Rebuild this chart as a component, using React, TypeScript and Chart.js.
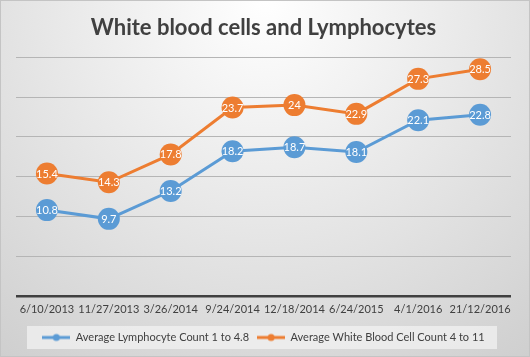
import React, { useEffect, useRef } from "react";
import { Chart, registerables } from "chart.js";

Chart.register(...registerables);

const categories = ["6/10/2013", "11/27/2013", "3/26/2014", "9/24/2014", "12/18/2014", "6/24/2015", "4/1/2016", "21/12/2016"];
const lymphocytes = [10.8, 9.7, 13.2, 18.2, 18.7, 18.1, 22.1, 22.8];
const whiteBloodCells = [15.4, 14.3, 17.8, 23.7, 24, 22.9, 27.3, 28.5];
const seriesNames = ["Average Lymphocyte Count 1 to 4.8", "Average White Blood Cell Count 4 to 11"];
const seriesColors = ["#5B9BD5", "#ED7D31"];
const titleText = "White blood cells and Lymphocytes";

const FONT = "Lato, 'Open Sans', sans-serif";

function makeLegendIcon(color: string) {
  const c = document.createElement("canvas");
  c.width = 28;
  c.height = 10;
  const ctx = c.getContext("2d")!;
  ctx.strokeStyle = color;
  ctx.lineWidth = 3;
  ctx.beginPath();
  ctx.moveTo(0, 5);
  ctx.lineTo(28, 5);
  ctx.stroke();
  ctx.fillStyle = color;
  ctx.beginPath();
  ctx.arc(14, 5, 3.5, 0, Math.PI * 2);
  ctx.fill();
  return c;
}

const dataLabelPlugin = {
  id: "dataLabels",
  afterDatasetsDraw(chart: any) {
    const ctx = chart.ctx;
    ctx.save();
    ctx.fillStyle = "#ffffff";
    ctx.font = `11px ${FONT}`;
    ctx.textAlign = "center";
    ctx.textBaseline = "middle";
    chart.data.datasets.forEach((ds: any, i: number) => {
      const meta = chart.getDatasetMeta(i);
      meta.data.forEach((pt: any, j: number) => {
        ctx.fillText(String(ds.data[j]), pt.x, pt.y + 0.5);
      });
    });
    ctx.restore();
  },
};

const legendBgPlugin = {
  id: "legendBg",
  beforeDraw(chart: any) {
    const lg = chart.legend;
    if (!lg || !lg.legendHitBoxes || !lg.legendHitBoxes.length) return;
    const boxes = lg.legendHitBoxes;
    const top = Math.min(...boxes.map((b: any) => b.top));
    const bottom = Math.max(...boxes.map((b: any) => b.top + b.height));
    const ctx = chart.ctx;
    ctx.save();
    ctx.fillStyle = "rgba(242,242,242,0.75)";
    ctx.fillRect(26, top - 6, 470, bottom - top + 12);
    ctx.restore();
  },
};

export default function App() {
  const ref = useRef<HTMLCanvasElement>(null);
  useEffect(() => {
    const icons = seriesColors.map(makeLegendIcon);
    const chart = new Chart(ref.current!, {
      type: "line",
      data: {
        labels: categories,
        datasets: [lymphocytes, whiteBloodCells].map((d, i) => ({
          label: seriesNames[i],
          data: d,
          borderColor: seriesColors[i],
          backgroundColor: seriesColors[i],
          borderWidth: 3,
          pointRadius: 11,
          pointHoverRadius: 11,
          pointBorderWidth: 0,
          pointBackgroundColor: seriesColors[i],
          tension: 0,
        })),
      },
      options: {
        animation: false,
        responsive: false,
        events: [],
        layout: { padding: { left: 15, right: 18, top: 0, bottom: 3 } },
        scales: {
          x: {
            offset: true,
            grid: { display: false, drawTicks: false },
            border: { display: false },
            ticks: { color: "#404040", font: { family: FONT, size: 11 }, padding: 7, maxRotation: 0, autoSkip: false },
            afterFit: (s: any) => {
              s.height = 28;
            },
          },
          y: {
            min: 0,
            max: 30,
            ticks: { display: false, stepSize: 5 },
            border: { display: false },
            grid: {
              drawTicks: false,
              color: (c: any) => (c.tick && c.tick.value === 0 ? "#404040" : "#b5b5b5"),
              lineWidth: (c: any) => (c.tick && c.tick.value === 0 ? 2.5 : 1),
            },
          },
        },
        plugins: {
          title: {
            display: true,
            text: titleText,
            color: "#404040",
            font: { family: FONT, size: 22, weight: "bold" },
            padding: { top: 14, bottom: 16 },
          },
          legend: {
            position: "bottom",
            labels: {
              usePointStyle: true,
              pointStyleWidth: 28,
              color: "#404040",
              font: { family: FONT, size: 11 },
              padding: 8,
              generateLabels: (ch: any) => {
                const items = Chart.defaults.plugins.legend.labels.generateLabels(ch);
                return items.map((it: any, i: number) => ({ ...it, pointStyle: icons[i] }));
              },
            },
          },
          tooltip: { enabled: false },
        },
      },
      plugins: [dataLabelPlugin, legendBgPlugin],
    });
    return () => chart.destroy();
  }, []);
  return (
    <div
      style={{
        position: "fixed",
        left: 0,
        top: 0,
        width: 530,
        height: 357,
        boxSizing: "border-box",
        border: "1px solid #c4c4c4",
        background: "radial-gradient(circle farthest-corner at 50% 0%, #ffffff 0%, #cfcfcf 100%)",
      }}
    >
      <canvas ref={ref} width={528} height={355} style={{ display: "block" }} />
    </div>
  );
}
